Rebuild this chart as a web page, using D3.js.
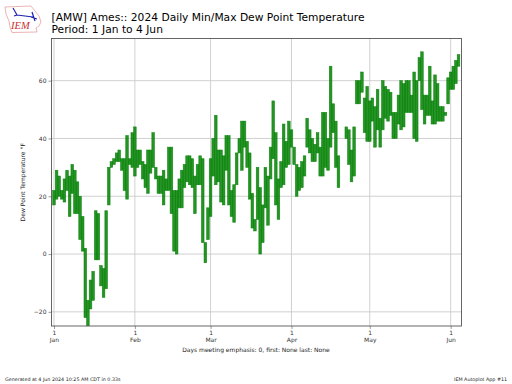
<!doctype html>
<html>
<head>
<meta charset="utf-8">
<title>AMW dew point</title>
<script src="https://d3js.org/d3.v7.min.js"></script>
<style>
  html, body { margin: 0; padding: 0; background: #fff; }
  text { font-family: "DejaVu Sans", sans-serif; }
</style>
</head>
<body>
<svg id="chart" width="512" height="384"></svg>
<script>
// daily max / min dew point (F), one entry per day from 1 Jan, null = missing
const maxDew = [22,29,27,22,26,29,27,31,29,25,20,13,2,-16,-9,-6,15,14,-4,-5,15,30,32,33,35,36,33,33,41,33,42,
  44,36,36,32,31,36,36,42,30,27,27,29,26,37,37,22,22,26,29,31,34,34,33,27,31,34,33,4,16,
  33,40,48,36,36,34,41,41,22,24,35,40,46,46,39,35,21,12,30,23,17,30,27,37,53,42,26,32,45,39,46,
  43,37,31,30,32,34,47,43,40,38,42,37,49,49,40,65,52,46,34,23,null,44,43,36,44,60,60,63,54,58,
  53,54,51,57,47,60,58,57,56,49,49,55,60,59,60,60,55,63,60,68,70,55,55,65,53,62,59,51,51,49,61,63,65,67,69]
const minDew = [17,19,20,19,18,22,13,21,14,14,5,1,-22,-25,-19,-16,-2,-2,-11,-15,-12,17,30,31,32,32,29,22,19,31,30,
  27,30,31,26,23,21,28,30,26,21,21,17,22,22,14,1,0,16,16,23,25,24,23,14,24,24,4,-3,5,
  13,27,24,25,18,17,29,17,13,11,24,35,29,37,30,19,9,8,12,0,4,16,10,26,33,17,12,23,24,30,31,
  37,31,20,22,23,27,37,35,32,32,35,27,27,30,29,37,42,30,23,23,null,40,31,25,27,52,52,56,42,39,
  39,46,37,43,37,43,47,46,48,40,40,45,43,44,49,49,49,40,39,60,50,45,48,48,45,45,46,46,46,48,52,57,57,59,65]
const monthStarts = [0, 31, 60, 91, 121, 152]
const monthNames = ["Jan", "Feb", "Mar", "Apr", "May", "Jun"]
const dewTicks = [-20, 0, 20, 40, 60]

const LEFT = 51.5, RIGHT = 461.5, TOP = 38.5, BOTTOM = 326

const svg = d3.select("#chart")
const scaleX = d3.scaleLinear().domain([-0.95, 156.15]).range([LEFT, RIGHT])
const scaleY = d3.scaleLinear().domain([-24.9, 74.6]).range([BOTTOM, TOP])

// logo
const logo = svg.append("g").attr("transform", "translate(4,3)")
logo.append("path")
  .attr("d", "M1,4 L27,3 L31,8 L35,13 L37,19 L35,23 L32,25 L33,29 L8,29.5 L6,24 L5,18 L2,11 Z")
  .attr("fill", "#fff").attr("stroke", "#e8a0a0").attr("stroke-width", 0.8)
logo.append("path")
  .attr("d", "M9,5 L13,12 M13,12 L29,14 M28,9 L31,18 M13,12 L10,13 M27,14 L33,16")
  .attr("fill", "none").attr("stroke", "#2020b0").attr("stroke-width", 1.2)
logo.append("text").text("IEM").attr("x", 7).attr("y", 26)
  .style("font-family", "'Liberation Serif', serif").style("font-style", "italic")
  .attr("font-size", 10.5).attr("fill", "#c83030")

// title
svg.append("text").text("[AMW] Ames:: 2024 Daily Min/Max Dew Point Temperature")
  .attr("x", 51.5).attr("y", 21).attr("font-size", 10.7).attr("fill", "#000")
svg.append("text").text("Period: 1 Jan to 4 Jun")
  .attr("x", 51.5).attr("y", 33).attr("font-size", 10.7).attr("fill", "#000")

// axes
const axisX = d3.axisBottom(scaleX).tickValues(monthStarts).tickSize(3).tickPadding(2).tickFormat(() => "1")
const gx = svg.append("g").attr("transform", "translate(0," + BOTTOM + ")").call(axisX)
gx.selectAll(".tick").append("text")
  .text((d, i) => monthNames[i])
  .attr("y", 12).attr("dy", "0.71em").attr("fill", "#333").attr("text-anchor", "middle")
const axisY = d3.axisLeft(scaleY).tickValues(dewTicks).tickSize(3).tickPadding(2).tickFormat(d => d < 0 ? "\u2212" + (-d) : d)
const gy = svg.append("g").attr("transform", "translate(" + LEFT + ",0)").call(axisY)
svg.selectAll(".domain").remove()
svg.selectAll(".tick text").attr("font-size", 6).style("font-family", "'DejaVu Sans'").attr("fill", "#333")
svg.selectAll(".tick line").attr("stroke", "#555").attr("stroke-width", 0.6)

// grid
svg.append("g").selectAll("line").data(monthStarts).join("line")
  .attr("x1", d => scaleX(d)).attr("x2", d => scaleX(d)).attr("y1", TOP).attr("y2", BOTTOM)
  .attr("stroke", "#ccc").attr("stroke-width", 0.9)
svg.append("g").selectAll("line").data(dewTicks).join("line")
  .attr("x1", LEFT).attr("x2", RIGHT).attr("y1", d => scaleY(d)).attr("y2", d => scaleY(d))
  .attr("stroke", "#ccc").attr("stroke-width", 0.9)

// bars
svg.append("clipPath").attr("id", "plot").append("rect")
  .attr("x", LEFT).attr("y", TOP).attr("width", RIGHT - LEFT).attr("height", BOTTOM - TOP)
const days = maxDew.map((d, i) => ({ day: i, hi: d, lo: minDew[i] })).filter(d => d.hi !== null)
svg.append("g").attr("clip-path", "url(#plot)").selectAll("rect").data(days).join("rect")
  .attr("x", d => scaleX(d.day - 0.5))
  .attr("width", scaleX(1) - scaleX(0))
  .attr("y", d => scaleY(d.hi))
  .attr("height", d => scaleY(d.lo) - scaleY(d.hi))
  .attr("fill", "#008000").attr("fill-opacity", 0.85)
  .attr("stroke", "#008000").attr("stroke-opacity", 0.85).attr("stroke-width", 0.6)

// frame
svg.append("rect").attr("x", LEFT).attr("y", TOP).attr("width", RIGHT - LEFT).attr("height", BOTTOM - TOP)
  .attr("fill", "none").attr("stroke", "#555").attr("stroke-width", 0.9)

// labels
svg.append("text").text("Dew Point Temperature \u00b0F")
  .attr("transform", "translate(24.5," + ((TOP + BOTTOM) / 2) + ") rotate(-90)")
  .attr("text-anchor", "middle").attr("font-size", 6).attr("fill", "#222")
svg.append("text").text("Days meeting emphasis: 0, first: None last: None")
  .attr("x", 256).attr("y", 352).attr("text-anchor", "middle").attr("font-size", 6).attr("fill", "#222")
svg.append("text").text("Generated at 4 Jun 2024 10:25 AM CDT in 0.33s")
  .attr("x", 5).attr("y", 381).attr("font-size", 4.8).attr("fill", "#222")
svg.append("text").text("IEM Autoplot App #11")
  .attr("x", 507).attr("y", 381).attr("text-anchor", "end").attr("font-size", 4.8).attr("fill", "#222")
</script>
</body>
</html>
